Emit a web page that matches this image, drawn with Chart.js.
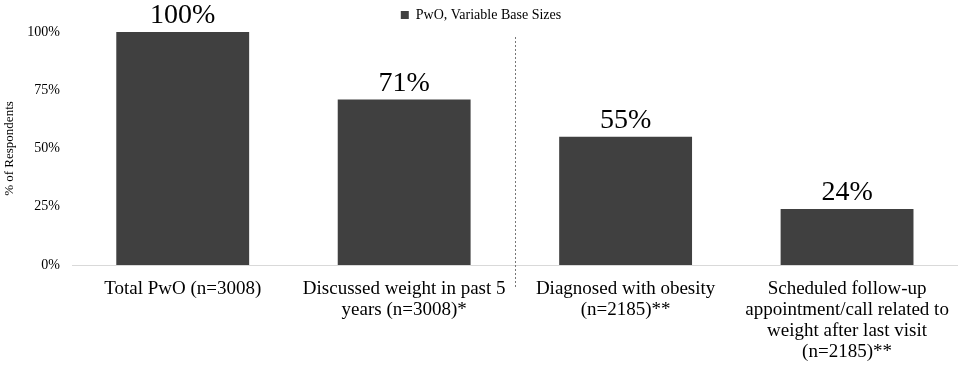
<!DOCTYPE html>
<html>
<head>
<meta charset="utf-8">
<script src="https://cdn.jsdelivr.net/npm/chart.js@4"></script>
<style>
html,body{margin:0;padding:0;background:#fff;}
#wrap{width:963px;height:366px;position:relative;}
</style>
</head>
<body>
<div id="wrap"><canvas id="c"></canvas></div>
<script>
const categories = [
  "Total PwO (n=3008)",
  ["Discussed weight in past 5", "years (n=3008)*"],
  ["Diagnosed with obesity", "(n=2185)**"],
  ["Scheduled follow-up", "appointment/call related to", "weight after last visit", "(n=2185)**"]
];
const seriesName = "PwO, Variable Base Sizes";
const values = [100, 71, 55, 24];
const yTicks = [0, 25, 50, 75, 100];
const dividerAfterIndex = 1;

const FONT = "'Liberation Serif', 'Times New Roman', serif";

const dataLabels = {
  id: 'dataLabels',
  afterDatasetsDraw(chart) {
    const ctx = chart.ctx;
    const meta = chart.getDatasetMeta(0);
    ctx.save();
    ctx.font = "28px " + FONT;
    ctx.fillStyle = "#000";
    ctx.textAlign = "center";
    ctx.textBaseline = "bottom";
    meta.data.forEach((bar, i) => {
      ctx.fillText(values[i] + "%", bar.x, bar.y - 2);
    });
    ctx.restore();
  }
};

const divider = {
  id: 'divider',
  afterDatasetsDraw(chart) {
    const x = chart.scales.x;
    const y = chart.scales.y;
    const px = (x.getPixelForValue(dividerAfterIndex) + x.getPixelForValue(dividerAfterIndex + 1)) / 2;
    const ctx = chart.ctx;
    ctx.save();
    ctx.strokeStyle = "#777";
    ctx.lineWidth = 1;
    ctx.setLineDash([2, 2]);
    ctx.beginPath();
    ctx.moveTo(Math.round(px) + 0.5, y.top + 5);
    ctx.lineTo(Math.round(px) + 0.5, y.bottom + 22);
    ctx.stroke();
    ctx.restore();
  }
};

new Chart(document.getElementById('c'), {
  type: 'bar',
  data: {
    labels: categories,
    datasets: [{
      label: seriesName,
      data: values,
      backgroundColor: '#404040',
      borderWidth: 0,
      categoryPercentage: 1.0,
      barPercentage: 0.6
    }]
  },
  options: {
    responsive: true,
    maintainAspectRatio: false,
    animation: false,
    layout: { padding: { left: 0, right: 1, top: 1, bottom: 0 } },
    plugins: {
      legend: {
        position: 'top',
        labels: {
          font: { family: FONT, size: 14 },
          color: '#000',
          boxWidth: 8,
          boxHeight: 8,
          padding: 7
        }
      },
      tooltip: { enabled: false }
    },
    scales: {
      x: {
        afterFit(axis) { axis.height = 101; },
        grid: { display: false, drawTicks: false },
        border: { color: '#d9d9d9', width: 1 },
        ticks: {
          font: { family: FONT, size: 19, lineHeight: 1.1 },
          color: '#000',
          maxRotation: 0,
          autoSkip: false,
          padding: 14
        }
      },
      y: {
        min: 0,
        max: 100,
        afterFit(axis) { axis.width = 72; },
        afterBuildTicks(axis) { axis.ticks = yTicks.map(v => ({ value: v })); },
        grid: { display: false, drawTicks: false },
        border: { display: false },
        ticks: {
          font: { family: FONT, size: 14 },
          color: '#000',
          padding: 12,
          callback: v => v + '%'
        },
        title: {
          display: true,
          text: '% of Respondents',
          font: { family: FONT, size: 13 },
          color: '#000',
          padding: { top: 2, bottom: 6 }
        }
      }
    }
  },
  plugins: [dataLabels, divider]
});
</script>
</body>
</html>
